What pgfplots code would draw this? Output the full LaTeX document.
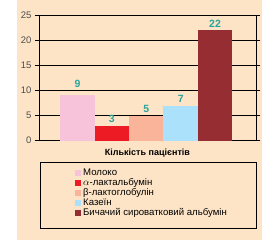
\documentclass[border=0pt]{standalone}
\usepackage{pgfplots}
\pgfplotsset{compat=1.18}
\usepackage{fontspec}
\setmainfont{Liberation Sans}
\usetikzlibrary{backgrounds,calc}
\definecolor{peach}{HTML}{FDE4C6}
\definecolor{cpink}{HTML}{F7C3DA}
\definecolor{cred}{HTML}{ED1C24}
\definecolor{csalmon}{HTML}{F9B49A}
\definecolor{cblue}{HTML}{ABE1FA}
\definecolor{cdark}{HTML}{952D33}
\definecolor{teal}{HTML}{2AA39C}
\definecolor{tickgray}{HTML}{4D4D4D}
\begin{document}
\begin{tikzpicture}
\begin{axis}[
  scale only axis,
  width=217pt, height=125.7pt,
  xmin=-1.12, xmax=5.19,
  ymin=0, ymax=25,
  ytick={0,5,10,15,20,25},
  xtick=\empty,
  ymajorgrids,
  grid style={black, line width=0.6pt},
  axis line style={black, line width=0.6pt},
  tick style={black, line width=0.6pt},
  tick align=outside,
  major tick length=4pt,
  yticklabel style={font=\fontsize{9.5}{10}\selectfont, text=tickgray},
  /pgf/number format/assume math mode=true,
  xlabel={\textbf{Кількість пацієнтів}},
  xlabel style={font=\fontsize{9}{10}\selectfont, yshift=-1pt},
  ybar, bar width=1, bar shift=0pt,
  nodes near coords,
  every node near coord/.append style={font=\fontsize{10.5}{11}\selectfont\bfseries, text=teal, yshift=-1pt},
  legend style={at={(axis description cs:0.152,-0.19)}, anchor=north west, draw=none, fill=none,
    font=\fontsize{9.6}{9.6}\selectfont, row sep=-2.4pt, cells={anchor=west}},
  legend image code/.code={\fill[#1] (0pt,-3pt) rectangle (6pt,3pt);},
]
\addplot[fill=cpink, draw=none, every node near coord/.append style={yshift=5pt}] coordinates {(0,9)};
\addlegendentry{Молоко}
\addplot[fill=cred, draw=none] coordinates {(1,3)};
\addlegendentry{$\alpha$-лактальбумін}
\addplot[fill=csalmon, draw=none] coordinates {(2,5)};
\addlegendentry{β-лактоглобулін}
\addplot[fill=cblue, draw=none] coordinates {(3,7)};
\addlegendentry{Казеїн}
\addplot[fill=cdark, draw=none] coordinates {(4,22)};
\addlegendentry{Бичачий сироватковий альбумін}
\end{axis}
\coordinate (A) at (current axis.south west);
\begin{scope}[on background layer]
\fill[white] ($(A)+(-39pt,-99.3pt)$) rectangle ($(A)+(241pt,140.7pt)$);
\fill[peach] ($(A)+(-22pt,-99.3pt)$) rectangle ($(A)+(223pt,140.7pt)$);
\end{scope}
\draw[black, line width=0.6pt] ($(A)+(1pt,-21.3pt)$) rectangle ($(A)+(217pt,-87.3pt)$);
\end{tikzpicture}
\end{document}
